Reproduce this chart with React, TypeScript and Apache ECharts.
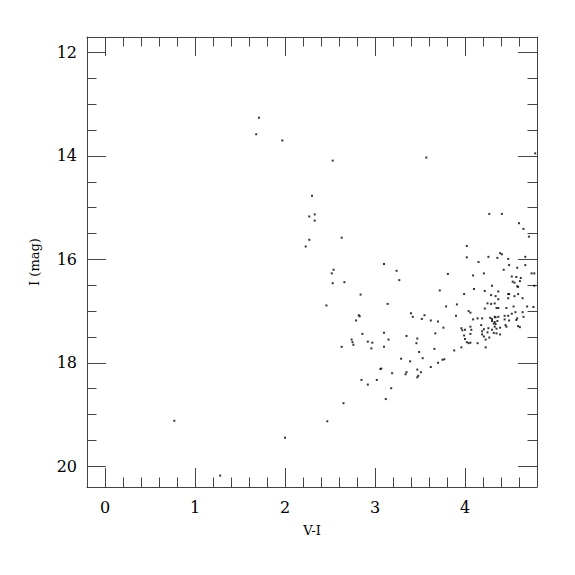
import React, { useEffect, useRef } from "react";
import * as echarts from "echarts";

// Colour V-I and magnitude I of each star
const vi = [
  1.71, 1.68, 1.97, 2.53, 2.30, 2.33, 2.27, 2.33, 2.63, 2.27, 2.23, 3.10, 2.54,
  3.24, 2.52, 3.27, 2.53, 2.66, 2.84, 2.46, 3.14, 2.82, 2.83, 2.79, 2.86, 3.10,
  3.35, 3.15, 2.74, 2.75, 2.92, 2.97, 2.76, 2.63, 2.96, 3.10, 3.29, 3.07, 3.06,
  3.19, 3.35, 3.34, 2.85, 3.02, 2.92, 3.18, 3.12, 2.65, 2.47, 2.00,
  0.77, 1.28,
  3.57, 4.78, 4.27, 4.41, 4.60, 4.65, 4.71, 4.02, 4.39, 4.41, 4.02, 4.26, 4.36,
  4.48, 4.67, 4.15, 4.49, 4.67, 4.58,
  3.81, 4.09, 4.21, 4.43, 4.52, 4.57, 4.62, 4.74, 4.77, 4.53, 4.55, 4.58, 4.59,
  4.61, 4.77, 4.30, 4.10, 3.72, 4.22, 4.37, 4.29, 4.34, 4.48, 4.49, 4.55, 4.59,
  4.48, 4.64, 4.37, 3.99, 3.91, 3.79, 4.25, 4.29, 4.33, 4.35, 4.37, 4.22, 4.46,
  4.54, 4.69, 4.76, 4.04, 4.06, 4.56, 4.52, 4.64, 3.40, 3.42, 3.55, 3.52, 3.90,
  4.14, 4.19, 4.09, 4.28, 4.30, 4.33, 4.34, 4.37, 4.44, 4.48, 4.58, 4.65, 3.62,
  3.70, 4.30, 4.33, 4.36, 4.44, 4.49, 4.57, 4.18, 4.32, 4.34, 4.45, 4.59, 4.61,
  3.76, 3.96, 3.97, 4.00, 4.06, 4.07, 4.21, 4.26, 4.33, 4.35, 4.30, 4.39, 4.46,
  4.19, 4.25, 4.32, 4.35, 4.39, 3.67, 3.99, 4.06, 4.19, 3.47, 4.21, 4.27, 4.00,
  4.02, 4.23, 4.04, 4.06, 3.46, 4.14, 3.96, 4.23, 3.66, 3.88, 3.49, 3.53, 3.39,
  3.75, 3.77, 3.70, 3.62, 3.47, 3.51, 3.48, 3.47,
];
const imag = [
  13.26, 13.58, 13.70, 14.09, 14.77, 15.13, 15.17, 15.25, 15.58, 15.62, 15.75, 16.09, 16.20,
  16.22, 16.27, 16.40, 16.46, 16.44, 16.68, 16.89, 16.86, 17.08, 17.10, 17.18, 17.44, 17.42,
  17.48, 17.55, 17.55, 17.60, 17.59, 17.61, 17.65, 17.69, 17.72, 17.69, 17.92, 18.11, 18.12,
  18.20, 18.18, 18.22, 18.33, 18.33, 18.42, 18.49, 18.70, 18.78, 19.13, 19.45,
  19.12, 20.18,
  14.03, 13.95, 15.12, 15.12, 15.30, 15.41, 15.56, 15.74, 15.88, 15.90, 15.96, 15.95, 15.97,
  15.99, 15.95, 16.05, 16.11, 16.11, 16.16,
  16.28, 16.31, 16.27, 16.20, 16.33, 16.34, 16.36, 16.27, 16.27, 16.43, 16.45, 16.52, 16.53,
  16.42, 16.51, 16.51, 16.57, 16.60, 16.61, 16.62, 16.69, 16.71, 16.67, 16.67, 16.71, 16.67,
  16.75, 16.75, 16.77, 16.67, 16.87, 16.91, 16.85, 16.86, 16.85, 16.94, 16.94, 16.95, 16.94,
  16.91, 16.91, 16.92, 17.00, 17.03, 17.02, 17.05, 17.02, 17.04, 17.11, 17.08, 17.15, 17.09,
  17.14, 17.14, 17.16, 17.13, 17.15, 17.11, 17.12, 17.11, 17.09, 17.09, 17.14, 17.11, 17.18,
  17.20, 17.19, 17.21, 17.19, 17.16, 17.18, 17.17, 17.27, 17.24, 17.25, 17.27, 17.29, 17.31,
  17.32, 17.33, 17.37, 17.36, 17.30, 17.36, 17.35, 17.33, 17.30, 17.34, 17.36, 17.32, 17.30,
  17.39, 17.41, 17.42, 17.43, 17.45, 17.43, 17.47, 17.44, 17.45, 17.53, 17.49, 17.51, 17.54,
  17.60, 17.55, 17.62, 17.61, 17.62, 17.62, 17.70, 17.70, 17.73, 17.76, 17.79, 17.91, 17.97,
  17.94, 17.93, 18.00, 18.08, 18.13, 18.18, 18.25, 18.28,
];

// Axis ticks
const xMajorTicks = [0, 1, 2, 3, 4];
const xMinorTicks = [0.2, 0.4, 0.6, 0.8, 1.2, 1.4, 1.6, 1.8, 2.2, 2.4, 2.6, 2.8, 3.2, 3.4, 3.6, 3.8, 4.2, 4.4, 4.6];
const yMajorTicks = [12, 14, 16, 18, 20];
const yMinorTicks = [12.5, 13, 13.5, 14.5, 15, 15.5, 16.5, 17, 17.5, 18.5, 19, 19.5, 20.5];

const X_MIN = -0.2;
const X_MAX = 4.8;
const Y_MIN = 11.7;
const Y_MAX = 20.4;

const AX = "#444";
const FONT = "DejaVu Serif";

export default function App() {
  const ref = useRef<HTMLDivElement>(null);

  useEffect(() => {
    if (!ref.current) return;
    const chart = echarts.init(ref.current, undefined, { renderer: "svg" });

    const xBase = (position: "bottom" | "top", major: boolean, primary: boolean) => ({
      type: "value",
      position,
      min: X_MIN,
      max: X_MAX,
      splitLine: { show: false },
      axisLine: { show: primary, onZero: false, lineStyle: { color: AX, width: 1 } },
      axisTick: {
        show: true,
        inside: true,
        length: major ? 19 : 9.5,
        customValues: major ? xMajorTicks : xMinorTicks,
        lineStyle: { color: AX, width: 1 },
      },
      axisLabel: {
        show: primary && position === "bottom",
        customValues: xMajorTicks,
        fontFamily: FONT,
        fontSize: 16,
        color: "#000",
        margin: 12,
      },
      ...(primary && position === "bottom"
        ? {
            name: "V-I",
            nameLocation: "middle",
            nameGap: 37,
            nameTextStyle: { fontFamily: FONT, fontSize: 13, color: "#000" },
          }
        : {}),
    });

    const yBase = (position: "left" | "right", major: boolean, primary: boolean) => ({
      type: "value",
      position,
      inverse: true,
      min: Y_MIN,
      max: Y_MAX,
      splitLine: { show: false },
      axisLine: { show: primary, onZero: false, lineStyle: { color: AX, width: 1 } },
      axisTick: {
        show: true,
        inside: true,
        length: major ? 19 : 9.5,
        customValues: major ? yMajorTicks : yMinorTicks,
        lineStyle: { color: AX, width: 1 },
      },
      axisLabel: {
        show: primary && position === "left",
        customValues: yMajorTicks,
        fontFamily: FONT,
        fontSize: 16,
        color: "#000",
        margin: 10,
      },
      ...(primary && position === "left"
        ? {
            name: "I (mag)",
            nameLocation: "middle",
            nameGap: 46,
            nameTextStyle: { fontFamily: FONT, fontSize: 13, color: "#000" },
          }
        : {}),
    });

    const points = vi.map((v, i) => [v, imag[i]]);

    chart.setOption({
      animation: false,
      backgroundColor: "#fff",
      grid: { left: 87, top: 37, width: 450, height: 450, containLabel: false },
      xAxis: [
        xBase("bottom", true, true),
        xBase("bottom", false, false),
        xBase("top", true, true),
        xBase("top", false, false),
      ],
      yAxis: [
        yBase("left", true, true),
        yBase("left", false, false),
        yBase("right", true, true),
        yBase("right", false, false),
      ],
      series: [
        {
          type: "scatter",
          xAxisIndex: 0,
          yAxisIndex: 0,
          data: points,
          symbol: "rect",
          symbolSize: 2,
          itemStyle: { color: "#000" },
          silent: true,
        },
      ],
    });

    return () => chart.dispose();
  }, []);

  return (
    <div
      ref={ref}
      style={{ position: "fixed", left: 0, top: 0, width: 575, height: 575, background: "#fff" }}
    />
  );
}
